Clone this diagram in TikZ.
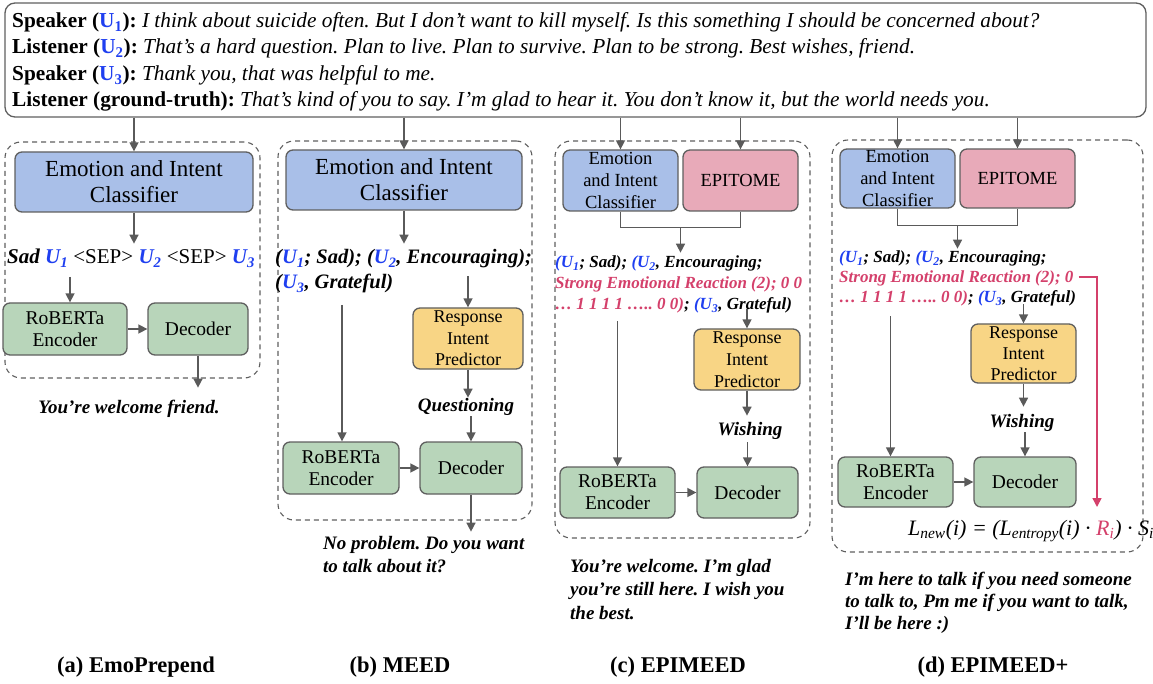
\documentclass[tikz,border=0pt]{standalone}
\usepackage{fontspec}
\setmainfont{Liberation Serif}
\usetikzlibrary{arrows.meta,calc}
\definecolor{ublue}{HTML}{1F3FF0}
\definecolor{rpink}{HTML}{D4406B}
\definecolor{bfill}{HTML}{A9BFE8}
\definecolor{pfill}{HTML}{E8AAB9}
\definecolor{ofill}{HTML}{F8D585}
\definecolor{gfill}{HTML}{B8D5BA}
\definecolor{edge}{HTML}{5F5F5F}
\definecolor{arrc}{HTML}{5A5A5A}
\newcommand\fsz[1]{\fontsize{#1}{#1}\selectfont}
\newcommand\fsl[2]{\fontsize{#1}{#2}\selectfont}
\newcommand\Uu[1]{{\color{ublue}U\textsubscript{#1}}}
\newcommand\pUu[1]{{\color{ublue}(U\textsubscript{#1}}}
\frenchspacing
\begin{document}
\begin{tikzpicture}[x=1pt,y=-1pt,
  box/.style={draw=edge, line width=1.3pt, rounded corners=7pt, align=center, inner sep=0pt},
  dbox/.style={draw=edge, line width=1.1pt, dash pattern=on 5pt off 4pt, rounded corners=16pt, inner sep=0pt},
  arr/.style={draw=arrc, line width=1.5pt, -{Triangle[length=9pt,width=9pt]}},
  parr/.style={draw=rpink, line width=1.5pt, -{Triangle[length=9pt,width=9pt]}},
  ln/.style={draw=arrc, line width=1.5pt},
  lbl/.style={inner sep=0pt, anchor=base west},
  bi/.style={font=\fsz{19}\bfseries\itshape},
  capt/.style={inner sep=0pt, anchor=base, font=\fsz{22.5}\bfseries},
]
\useasboundingbox (0,0) rectangle (1153,684);

% ---------- top dialogue box
\node[draw=edge, line width=1.3pt, rounded corners=10pt, minimum width=1141pt, minimum height=114pt, inner sep=0pt] (top) at (575.5,60) {};
\node[lbl, font=\fsz{21.3}] (t1) at (12,28) {\textbf{Speaker (\Uu{1}):} \textit{I think about suicide often. But I don't want to kill myself. Is this something I should be concerned about?}};
\node[lbl, font=\fsz{21.3}] (t2) at (12,54) {\textbf{Listener (\Uu{2}):} \textit{That's a hard question. Plan to live. Plan to survive. Plan to be strong. Best wishes, friend.}};
\node[lbl, font=\fsz{21.3}] (t3) at (12,81) {\textbf{Speaker (\Uu{3}):} \textit{Thank you, that was helpful to me.}};
\node[lbl, font=\fsz{21.3}] (t4) at (12,107) {\textbf{Listener (ground-truth):} \textit{That's kind of you to say. I'm glad to hear it. You don't know it, but the world needs you.}};

% ---------- (a) EmoPrepend
\node[dbox, minimum width=255pt, minimum height=236pt] (pa) at (132.5,260) {};
\node[box, fill=bfill, minimum width=238pt, minimum height=60pt, font=\fsl{23}{26}] (acls) at (134,182) {Emotion and Intent\\Classifier};
\node[lbl, font=\fsz{21}] (aseq) at (7,264) {\textbf{\textit{Sad \Uu{1}}} <SEP> \textbf{\textit{\Uu{2}}} <SEP> \textbf{\textit{\Uu{3}}}};
\node[box, fill=gfill, minimum width=124pt, minimum height=52pt, font=\fsl{19.5}{22}] (aenc) at (65,329) {RoBERTa\\Encoder};
\node[box, fill=gfill, minimum width=100pt, minimum height=52pt, font=\fsz{19.5}] (adec) at (198,329) {Decoder};
\node[bi, inner sep=0pt, anchor=base] (aresp) at (129,413) {You’re welcome friend.};
\coordinate (ain) at (70,277);
\draw[arr] (top.south -| acls.north) -- (acls.north);
\draw[arr] (acls.south) -- ++(0,31);
\draw[arr] (ain) -- (ain |- aenc.north);
\draw[arr] (aenc) -- (adec);
\draw[arr] (adec.south) -- ++(0,32);

% ---------- (b) MEED
\node[dbox, minimum width=254pt, minimum height=379pt] (pb) at (405,330.5) {};
\node[box, fill=bfill, minimum width=236pt, minimum height=60pt, font=\fsl{23}{26}] (bcls) at (404,180) {Emotion and Intent\\Classifier};
\node[lbl, font=\fsz{20.5}\bfseries\itshape] (bseq1) at (275,264) {(\Uu{1}; Sad); (\Uu{2}, Encouraging);};
\node[lbl, font=\fsz{20.5}\bfseries\itshape] (bseq2) at (275,289) {(\Uu{3}, Grateful)};
\node[box, fill=ofill, minimum width=110pt, minimum height=61pt, font=\fsl{18}{21.5}] (brip) at (468,338.5) {Response\\Intent\\Predictor};
\node[box, fill=gfill, minimum width=116pt, minimum height=52pt, font=\fsl{19.5}{22}] (benc) at (341,468) {RoBERTa\\Encoder};
\node[box, fill=gfill, minimum width=102pt, minimum height=52pt, font=\fsz{19.5}] (bdec) at (471,468) {Decoder};
\node[bi, inner sep=0pt] (bq) at (466,407) {Questioning};
\node[lbl, bi] (br1) at (323,549) {No problem. Do you want};
\node[lbl, bi] (br2) at (323,572) {to talk about it?};
\coordinate (bin) at (342,305);
\draw[arr] (top.south -| bcls.north) -- (bcls.north);
\draw[arr] (bcls.south) -- ++(0,33);
\draw[arr] (bin) -- (bin |- benc.north);
\draw[arr] ($(brip.north)+(0,-31)$) -- (brip.north);
\draw[arr] (brip.south) -- ++(0,28);
\draw[arr] ($(bdec.north)+(0,-25)$) -- (bdec.north);
\draw[arr] (benc) -- (bdec);
\draw[arr] (bdec.south) -- ++(0,37);

% ---------- (c) EPIMEED
\node[dbox, minimum width=255pt, minimum height=397pt] (pc) at (682.5,339.5) {};
\node[box, fill=bfill, minimum width=115pt, minimum height=61pt, font=\fsl{18.5}{22}] (ccls) at (620.5,180.5) {Emotion\\and Intent\\Classifier};
\node[box, fill=pfill, minimum width=115pt, minimum height=61pt, font=\fsz{18.5}] (cepi) at (740.5,180.5) {EPITOME};
\node[lbl, font=\fsz{17}\bfseries\itshape] (cseq1) at (555,268) {\pUu{1}; Sad); \pUu{2}, Encouraging;};
\node[lbl, font=\fsz{17}\bfseries\itshape, text=rpink] (cseq2) at (555,289) {Strong Emotional Reaction (2); 0 0};
\node[lbl, font=\fsz{17}\bfseries\itshape] (cseq3) at (555,310) {{\color{rpink}… 1 1 1 1 ….. 0 0)}; \pUu{3}, Grateful)};
\node[box, fill=ofill, minimum width=106pt, minimum height=61pt, font=\fsl{18}{22}] (crip) at (747,359.5) {Response\\Intent\\Predictor};
\node[box, fill=gfill, minimum width=115pt, minimum height=51pt, font=\fsl{19.5}{22}] (cenc) at (617.5,492.5) {RoBERTa\\Encoder};
\node[box, fill=gfill, minimum width=101pt, minimum height=51pt, font=\fsz{19.5}] (cdec) at (747.5,492.5) {Decoder};
\node[bi, inner sep=0pt] (cw) at (750,431) {Wishing};
\node[lbl, bi] (cr1) at (570,572) {You’re welcome. I’m glad};
\node[lbl, bi] (cr2) at (570,595) {you’re still here. I wish you};
\node[lbl, bi] (cr3) at (570,619) {the best.};
\draw[arr] (top.south -| ccls.north) -- (ccls.north);
\draw[arr] (top.south -| cepi.north) -- (cepi.north);
\draw[ln] (ccls.south) -- ++(0,16) -| (cepi.south);
\coordinate (cj) at ($(ccls.south)!0.5!(cepi.south)+(0,16)$);
\draw[arr] (cj) -- ++(0,25);
\draw[arr] ($(cenc.north)+(0,-145)$) -- (cenc.north);
\draw[arr] ($(crip.north)+(0,-19)$) -- (crip.north);
\draw[arr] (crip.south) -- ++(0,25);
\draw[arr] ($(cdec.north)+(0,-24)$) -- (cdec.north);
\draw[arr] (cenc) -- (cdec);

% ---------- (d) EPIMEED+
\node[dbox, minimum width=311pt, minimum height=412pt] (pd) at (987.5,346) {};
\node[box, fill=bfill, minimum width=115pt, minimum height=59pt, font=\fsl{18.5}{22}] (dcls) at (897.5,178.5) {Emotion\\and Intent\\Classifier};
\node[box, fill=pfill, minimum width=115pt, minimum height=59pt, font=\fsz{18.5}] (depi) at (1017.5,178.5) {EPITOME};
\node[lbl, font=\fsz{17}\bfseries\itshape] (dseq1) at (839,263) {\pUu{1}; Sad); \pUu{2}, Encouraging;};
\node[lbl, font=\fsz{17}\bfseries\itshape, text=rpink] (dseq2) at (839,283) {Strong Emotional Reaction (2); 0};
\node[lbl, font=\fsz{17}\bfseries\itshape] (dseq3) at (839,303) {{\color{rpink}… 1 1 1 1 ….. 0 0)}; \pUu{3}, Grateful)};
\node[box, fill=ofill, minimum width=105pt, minimum height=59pt, font=\fsl{18}{21}] (drip) at (1023.5,353.5) {Response\\Intent\\Predictor};
\node[box, fill=gfill, minimum width=115pt, minimum height=50pt, font=\fsl{19.5}{22}] (denc) at (895.5,482) {RoBERTa\\Encoder};
\node[box, fill=gfill, minimum width=102pt, minimum height=50pt, font=\fsz{19.5}] (ddec) at (1025,482) {Decoder};
\node[bi, inner sep=0pt] (dw) at (1022,423) {Wishing};
\node[lbl, font=\fsz{22}\itshape] (form) at (908,535) {L\textsubscript{new}(i) = (L\textsubscript{entropy}(i) · {\color{rpink}R\textsubscript{i}}) · S\textsubscript{i}};
\node[lbl, bi] (dr1) at (845,585) {I’m here to talk if you need someone};
\node[lbl, bi] (dr2) at (845,607) {to talk to, Pm me if you want to talk,};
\node[lbl, bi] (dr3) at (845,629) {I’ll be here :)};
\coordinate (dR) at (1097,507);
\draw[arr] (top.south -| dcls.north) -- (dcls.north);
\draw[arr] (top.south -| depi.north) -- (depi.north);
\draw[ln] (dcls.south) -- ++(0,17) -| (depi.south);
\coordinate (dj) at ($(dcls.south)!0.5!(depi.south)+(0,17)$);
\draw[arr] (dj) -- ++(0,23);
\draw[arr] ($(denc.north)+(-5,-140)$) -- ++(0,140);
\draw[arr] ($(drip.north)+(0,-19)$) -- (drip.north);
\draw[arr] (drip.south) -- ++(0,23);
\draw[arr] ($(ddec.north)+(0,-24)$) -- (ddec.north);
\draw[arr] (denc) -- (ddec);
\draw[parr] ($(dseq2.base east)+(5,-6)$) -| (dR);

% ---------- captions
\node[capt] (capa) at (136,672) {(a) EmoPrepend};
\node[capt] (capb) at (400,672) {(b) MEED};
\node[capt] (capc) at (678,672) {(c) EPIMEED};
\node[capt] (capd) at (993,672) {(d) EPIMEED+};
\end{tikzpicture}
\end{document}
